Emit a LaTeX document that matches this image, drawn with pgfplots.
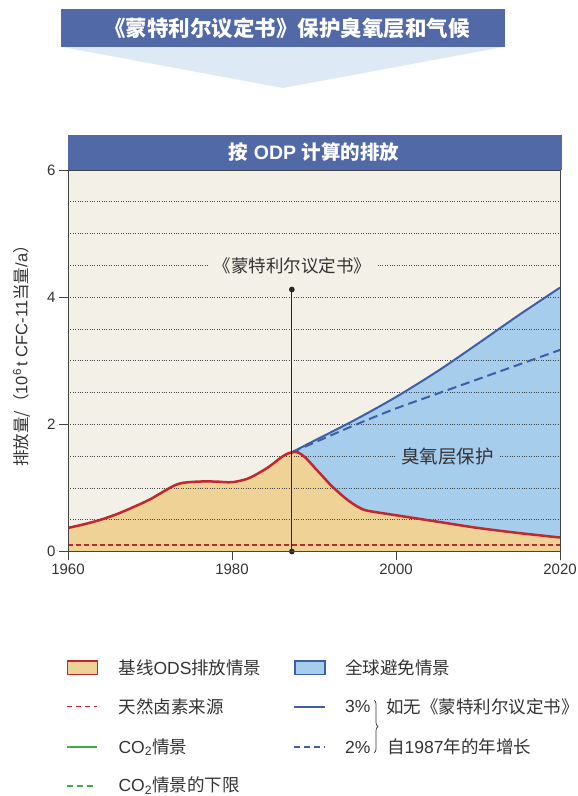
\documentclass[border=0pt]{standalone}
\usepackage{pgfplots}
\pgfplotsset{compat=1.18}
\usepackage{pgfplotstable}
\usepgfplotslibrary{fillbetween}
\usetikzlibrary{decorations.pathreplacing}
\usepackage{fontspec}
\setmainfont{Liberation Sans}
\newfontfamily\cjk{Noto Sans CJK SC}
\definecolor{bgc}{HTML}{F3F0E8}
\definecolor{odsfill}{HTML}{EFD295}
\definecolor{odsline}{HTML}{C1272D}
\definecolor{avoidfill}{HTML}{A7CDEC}
\definecolor{blueline}{HTML}{3E5FA6}
\definecolor{titleblue}{HTML}{5169A6}
\definecolor{trifill}{HTML}{DDEAF6}
\definecolor{greenc}{HTML}{3DAE48}
\definecolor{textgray}{HTML}{333333}
\definecolor{axisgray}{HTML}{444444}

\pgfplotstableread{
year val
1960 0.37
1962 0.43
1964 0.50
1966 0.59
1968 0.70
1970 0.82
1972 0.97
1973 1.04
1974 1.08
1976 1.10
1978 1.10
1980 1.09
1982 1.15
1984 1.29
1985 1.38
1986 1.48
1987 1.55
1988 1.56
1989 1.47
1990 1.33
1991 1.19
1992 1.05
1993 0.93
1994 0.82
1995 0.73
1996 0.66
1997 0.63
2000 0.57
2005 0.47
2010 0.37
2015 0.29
2020 0.22
}\basetab

% baseline after the Protocol (same readings, from 1987.3)
\pgfplotstableread{
year val
1987.3 1.56
1988 1.56
1989 1.47
1990 1.33
1991 1.19
1992 1.05
1993 0.93
1994 0.82
1995 0.73
1996 0.66
1997 0.63
2000 0.57
2005 0.47
2010 0.37
2015 0.29
2020 0.22
}\tailtab

\pgfplotstableread{
year val
1987.3 1.56
1990 1.74
1995 2.07
2000 2.43
2005 2.83
2010 3.27
2015 3.72
2020 4.15
}\threetab

\pgfplotstableread{
year val
1987.3 1.56
1990 1.71
1995 1.99
2000 2.25
2005 2.48
2010 2.71
2015 2.94
2020 3.17
}\twotab

\begin{document}
\begin{tikzpicture}[x=1bp,y=1bp]
% banner
\fill[trifill] (60.7,749.3) -- (505,749.3) -- (283,708) -- cycle;
\fill[titleblue] (60.7,749.3) rectangle (505,787);
\node[text=white, font=\cjk\bfseries\fontsize{21.5bp}{24bp}\selectfont] at (287,768) {《蒙特利尔议定书》保护臭氧层和气候};
% panel title
\fill[titleblue] (67.5,626) rectangle (562,661);
\node[text=white, font=\bfseries\fontsize{19.5bp}{22bp}\selectfont] at (314,643.5) {{\cjk 按} ODP {\cjk 计算的排放}};

\begin{axis}[
  at={(68bp,244.5bp)}, anchor=south west,
  scale only axis, width=492bp, height=381.5bp,
  xmin=1960, xmax=2020, ymin=0, ymax=6,
  axis background/.style={fill=bgc},
  axis on top,
  xtick={1960,1980,2000,2020}, ytick={0,2,4,6},
  tick align=outside, xtick pos=bottom, ytick pos=left,
  major tick length=9bp,
  tick style={draw=axisgray, line width=0.8bp},
  axis line style={draw=axisgray, line width=0.8bp},
  tick label style={font=\fontsize{15bp}{15bp}\selectfont, text=textgray},
  /pgf/number format/assume math mode=true,
  xticklabel style={/pgf/number format/1000 sep={}},
  grd/.style={draw=axisgray, line width=0.6bp, dash pattern=on 0.8bp off 1.6bp, forget plot},
]
\addplot[fill=odsfill, draw=none, smooth] table[x=year,y=val] {\basetab} \closedcycle;
\addplot[name path=p3, draw=none, smooth, forget plot] table[x=year,y=val] {\threetab};
\addplot[name path=tail, draw=none, smooth, forget plot] table[x=year,y=val] {\tailtab};
\addplot[fill=avoidfill, draw=none] fill between[of=p3 and tail];
% grid lines
\addplot[grd] coordinates {(1960,0.5) (2020,0.5)};
\addplot[grd] coordinates {(1960,1.0) (2020,1.0)};
\addplot[grd] coordinates {(1960,1.5) (2020,1.5)};
\addplot[grd] coordinates {(1960,2.0) (2020,2.0)};
\addplot[grd] coordinates {(1960,2.5) (2020,2.5)};
\addplot[grd] coordinates {(1960,3.0) (2020,3.0)};
\addplot[grd] coordinates {(1960,3.5) (2020,3.5)};
\addplot[grd] coordinates {(1960,4.0) (2020,4.0)};
\addplot[grd] coordinates {(1960,4.5) (2020,4.5)};
\addplot[grd] coordinates {(1960,5.0) (2020,5.0)};
\addplot[grd] coordinates {(1960,5.5) (2020,5.5)};
\addplot[draw=odsline, line width=1.3bp, dash pattern=on 5bp off 3bp] coordinates {(1960,0.10) (2020,0.10)};
\addplot[draw=blueline, line width=2bp, smooth] table[x=year,y=val] {\threetab};
\addplot[draw=blueline, line width=2bp, dash pattern=on 9bp off 5bp, smooth] table[x=year,y=val] {\twotab};
\addplot[draw=odsline, line width=2.5bp, smooth] table[x=year,y=val] {\basetab};
\addplot[draw=black!85, line width=1bp, mark=*, mark size=2.3bp, mark options={solid,fill=black!85}] coordinates {(1987.3,0) (1987.3,4.12)};
\node[fill=bgc, inner xsep=6bp, inner ysep=2bp, text=textgray, font=\cjk\fontsize{17.5bp}{19bp}\selectfont] at (axis cs:1987.4,4.5) {《蒙特利尔议定书》};
\node[fill=avoidfill, inner xsep=5bp, inner ysep=2bp, text=textgray, font=\cjk\fontsize{18.5bp}{20bp}\selectfont] at (axis cs:2006.3,1.5) {臭氧层保护};
\end{axis}

% y label
\node[rotate=90, text=textgray, font=\fontsize{16.5bp}{18bp}\selectfont] at (21.7,444) {{\cjk 排放量/（}10\textsuperscript{6}\,t CFC-11{\cjk 当量}/a{\cjk ）}};

% legend
\begin{scope}[every node/.style={anchor=west, text=textgray, font=\fontsize{17.5bp}{20bp}\selectfont, inner sep=0pt}]
\draw[odsline, line width=1.6bp, fill=odsfill] (67.3,121.5) rectangle (97.3,135.2);
\node at (118.3,128.3) {{\cjk 基线}ODS{\cjk 排放情景}};
\draw[blueline, line width=1.6bp, fill=avoidfill] (295,121.5) rectangle (325,135.2);
\node at (345,128.3) {\cjk 全球避免情景};
\draw[odsline, line width=1.5bp, dash pattern=on 5bp off 4bp] (67.3,89.3) -- (97.3,89.3);
\node at (118.3,89.3) {\cjk 天然卤素来源};
\draw[blueline, line width=2bp] (294,89.3) -- (325,89.3);
\node at (345,89.3) {3\%};
\draw[greenc, line width=2bp] (67.3,48.7) -- (97.3,48.7);
\node at (118.3,48.7) {CO\textsubscript{2}{\cjk 情景}};
\draw[blueline, line width=2bp, dash pattern=on 6bp off 4bp] (294,48.7) -- (325,48.7);
\node at (345,48.7) {2\%};
\draw[greenc, line width=2bp, dash pattern=on 6bp off 4bp] (67.3,10.3) -- (97.3,10.3);
\node at (118.3,10.3) {CO\textsubscript{2}{\cjk 情景的下限}};
\draw[textgray, line width=0.7bp, decorate, decoration={brace, amplitude=4bp}] (374,96) -- (374,43);
\node at (386,89.3) {\cjk 如无《蒙特利尔议定书》};
\node at (387,48.7) {{\cjk 自}1987{\cjk 年的年增长}};
\end{scope}
\pgfresetboundingbox
\useasboundingbox (0,0) rectangle (578,796);
\end{tikzpicture}
\end{document}
